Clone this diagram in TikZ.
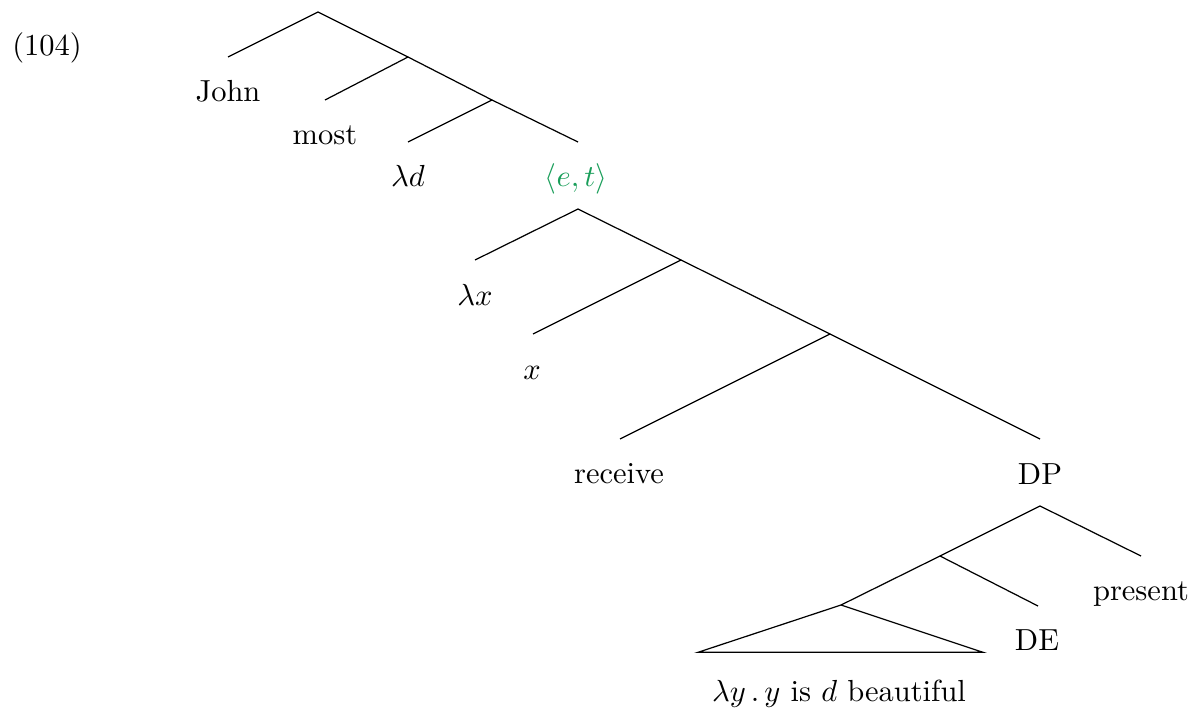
\documentclass[tikz,border=0pt]{standalone}
\usepackage{amsmath,amssymb}
\usetikzlibrary{positioning}
\definecolor{typegreen}{RGB}{26,158,90}
\tikzset{
  leaf/.style={anchor=base,inner sep=0pt},
  typelabel/.style={leaf,text=typegreen},
  branch/.style={line width=0.4pt}
}
\newcommand{\fork}[3]{\draw[branch] (#2) -- (#1) -- (#3);}

\begin{document}
\begin{tikzpicture}[x=0.328pt,y=-0.328pt]
\useasboundingbox (0,0) rectangle (1191,714);
\node[leaf] (exnum) at (47,55) {(104)};
% upper part
\coordinate (r0) at (318,12);
\coordinate (r1) at (408,57);
\coordinate (r2) at (492,100);
\coordinate (tjohn) at (228,57);
\coordinate (tmost) at (325,100);
\coordinate (tlamd) at (408,142);
\coordinate (tet) at (578,142);
\fork{r0}{tjohn}{r1}\fork{r1}{tmost}{r2}\fork{r2}{tlamd}{tet}
\node[leaf] (john) at (228,101.7) {John};
\node[leaf] (most) at (325,144) {most};
\node[leaf] (lamd) at (408,186.7) {$\lambda d$};
\node[typelabel] (et) at (576,186.7) {$\langle e,t\rangle$};
% middle part
\coordinate (s0) at (578,209);
\coordinate (s1) at (681,260);
\coordinate (s2) at (830,334);
\coordinate (tlamx) at (475,260);
\coordinate (tx) at (533,334);
\coordinate (trec) at (620,439);
\coordinate (tdp) at (1040,439);
\fork{s0}{tlamx}{s1}\fork{s1}{tx}{s2}\fork{s2}{trec}{tdp}
\node[leaf] (lamx) at (475,305) {$\lambda x$};
\node[leaf] (x) at (532,379) {$x$};
\node[leaf] (receive) at (619,483.3) {receive};
\node[leaf] (dp) at (1040,484) {DP};
% DP part
\coordinate (d0) at (1040,506);
\coordinate (d1) at (940,556);
\coordinate (d2) at (841,605);
\coordinate (tpres) at (1141,556);
\coordinate (tde) at (1038,606);
\coordinate (triL) at (698,652.3);
\coordinate (triR) at (983,652.3);
\fork{d0}{d1}{tpres}\fork{d1}{d2}{tde}
\draw[branch] (d2) -- (triL) -- (triR) -- cycle;
\node[leaf] (present) at (1141,600) {present};
\node[leaf] (de) at (1037,650) {DE};
\node[leaf] (pred) at (839,701.7) {$\lambda y\,.\,y$ is $d$ beautiful};
\end{tikzpicture}
\end{document}
